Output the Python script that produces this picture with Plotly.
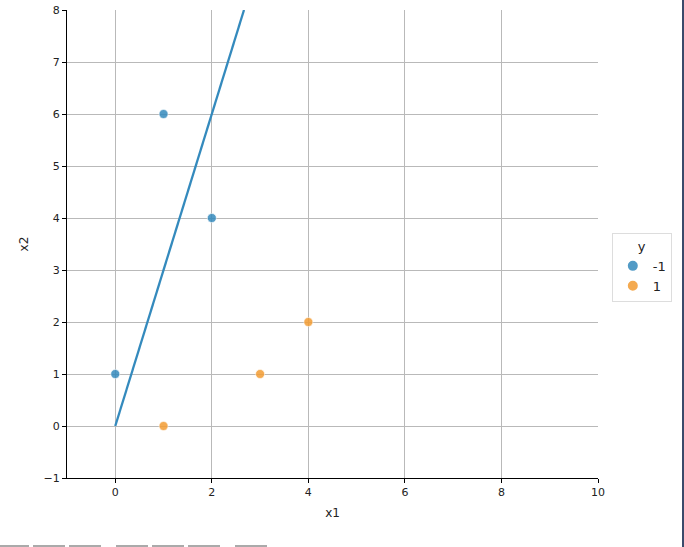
import plotly.graph_objects as go

# data
neg_x1 = [0, 1, 2]
neg_x2 = [1, 6, 4]
pos_x1 = [1, 3, 4]
pos_x2 = [0, 1, 2]
line_x1 = [0, 8 / 3]
line_x2 = [0, 8]
x_ticks = [0, 2, 4, 6, 8, 10]
y_ticks = [-1, 0, 1, 2, 3, 4, 5, 6, 7, 8]

blue = "#348ABD"
orange = "#F39C32"
font = "DejaVu Sans"

fig = go.Figure()
fig.add_trace(go.Scatter(x=line_x1, y=line_x2, mode="lines",
                         line=dict(color=blue, width=2.3), showlegend=False,
                         hoverinfo="skip"))
fig.add_trace(go.Scatter(x=neg_x1, y=neg_x2, mode="markers", name="-1",
                         marker=dict(color=blue, size=9, opacity=0.85,
                                     line=dict(color="white", width=0.6))))
fig.add_trace(go.Scatter(x=pos_x1, y=pos_x2, mode="markers", name="1",
                         marker=dict(color=orange, size=9, opacity=0.85,
                                     line=dict(color="white", width=0.6))))

axis_common = dict(showgrid=True, gridcolor="#b9b9b9", gridwidth=1,
                   zeroline=False, showline=True, linecolor="black",
                   linewidth=1.2, ticks="outside", ticklen=4,
                   tickcolor="black", tickfont=dict(family=font, size=11, color="#222"),
                   mirror=False, automargin=False, ticklabeloverflow="allow")

fig.update_layout(
    width=684, height=547,
    margin=dict(l=67, r=86, t=10, b=69),
    plot_bgcolor="white", paper_bgcolor="white",
    font=dict(family=font, size=12, color="#222"),
    xaxis=dict(range=[-1, 10], tickvals=x_ticks,
               ticktext=[str(v) for v in x_ticks],
               title=dict(text="x1", font=dict(family=font, size=12), standoff=10),
               **axis_common),
    yaxis=dict(range=[-1, 8], tickvals=y_ticks,
               ticktext=["\u22121"] + [str(v) for v in y_ticks[1:]],
               title=dict(text="x2", font=dict(family=font, size=12), standoff=12),
               **axis_common),
    legend=dict(title=dict(text="y", side="top center", font=dict(family=font, size=13)),
                x=1.026, y=0.5235, xanchor="left", yanchor="top",
                bordercolor="#dddddd", borderwidth=1, bgcolor="white",
                font=dict(family=font, size=13), itemsizing="constant",
                tracegroupgap=2),
    showlegend=True,
)

# page edge decorations seen in the reference
W = 531.0
H = 468.0
fig.add_shape(type="line", xref="paper", yref="paper",
              x0=1 + 85 / W, x1=1 + 85 / W, y0=-69 / H, y1=1 + 10 / H,
              line=dict(color="#3b4a6b", width=2))
for a, b in [(0, 29), (33, 65), (69, 101), (116, 148), (152, 184), (188, 220), (235, 267)]:
    fig.add_shape(type="line", xref="paper", yref="paper",
                  x0=(a - 67) / W, x1=(b - 67) / W,
                  y0=-(546 - 478) / H, y1=-(546 - 478) / H,
                  line=dict(color="#aaaaaa", width=2))

# remove the default page margin so the figure sits at the window's corner
fig.write_html("out.html",
               config={"displayModeBar": False},
               post_script="document.body.style.margin='0';document.body.style.overflow='hidden';")
